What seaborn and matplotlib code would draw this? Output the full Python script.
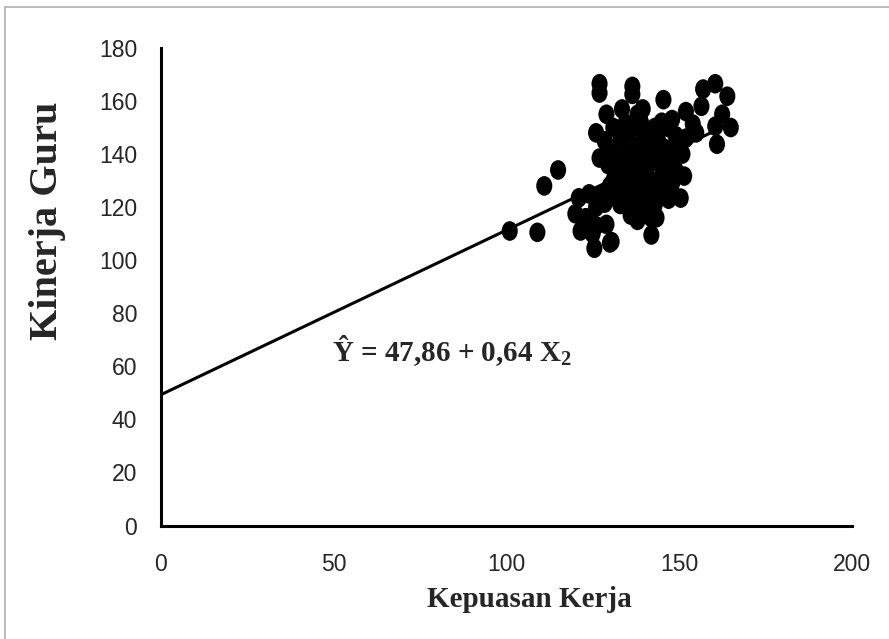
import numpy as np
import pandas as pd
import matplotlib
matplotlib.use("Agg")
import matplotlib.pyplot as plt
import seaborn as sns
from matplotlib.path import Path
from matplotlib.transforms import Affine2D
from matplotlib.lines import Line2D

# Scatter data: Kepuasan Kerja (X2) vs Kinerja Guru (Y)
kepuasan = [101, 109, 111, 115, 121, 120, 121.5, 123, 125, 125.5, 126, 127.5, 128.5, 129, 130, 130.5,
            127, 127, 136.5, 136.5, 145.5, 129, 126, 134.5, 139.5, 133.5, 127, 130,
            157, 160.5, 164, 156.5, 152, 162.5, 160.5, 165, 161, 154, 151, 151.5, 150.5,
            142, 143.5, 141.3, 124, 126, 128,
            131, 133, 135, 137, 139, 141, 143, 145, 147, 149,
            132, 134, 136, 138, 140, 142, 144, 146, 148, 150,
            131, 133, 135, 137, 139, 141, 143, 145, 147, 149,
            132, 134, 136, 138, 140, 142, 144, 146, 148,
            133, 135, 137, 139, 141, 143, 145, 147,
            136, 138, 140, 142, 135, 137, 139,
            129.5, 130, 130.5, 131, 128.5, 138, 140, 144, 146, 152, 148, 155]
kinerja = [111, 110.5, 128, 134, 123.5, 117.5, 111, 116, 110, 104.5, 113, 122, 121.5, 113.5, 106.5, 107,
           166.5, 163, 165.5, 162.5, 160.5, 155, 148, 151.5, 157, 157, 138.5, 142,
           164.5, 166.5, 161.8, 158, 156, 155, 150.5, 150, 143.7, 151.3, 140, 131.7, 123.4,
           109.5, 116, 118, 125, 120, 125,
           140, 145, 148, 150, 152, 148, 150, 152, 150, 147,
           135, 138, 141, 143, 140, 143, 145, 142, 140, 143,
           130, 132, 134, 136, 133, 136, 138, 135, 137, 134,
           126, 128, 125, 129, 127, 130, 128, 131, 129,
           121, 123, 119, 122, 124, 121, 125, 123,
           117, 115, 118, 116, 128, 131, 126,
           136, 128, 124, 150, 145, 155, 145, 140, 138, 146, 153, 148]

# Regression line as drawn
intercept = 49.3
slope = 0.62
line_x = [0, 165]

x_ticks = [0, 50, 100, 150, 200]
y_ticks = [0, 20, 40, 60, 80, 100, 120, 140, 160, 180]

df = pd.DataFrame({"Kepuasan Kerja": kepuasan, "Kinerja Guru": kinerja})

sns.set_style("white")
plt.rcParams["mathtext.fontset"] = "custom"
plt.rcParams["mathtext.rm"] = "Liberation Serif:bold"
plt.rcParams["mathtext.default"] = "rm"

tick_font = ["Liberation Sans Narrow", "Liberation Sans", "DejaVu Sans"]
label_font = ["Liberation Serif", "DejaVu Serif"]

fig = plt.figure(figsize=(8.89, 6.39), dpi=100)
ax = fig.add_axes([0.181, 0.1776, 0.777, 0.7474])

# slightly tall ellipse marker, like the stretched original
ell = Path.unit_circle().transformed(Affine2D().scale(0.82, 1.0))

sns.scatterplot(data=df, x="Kepuasan Kerja", y="Kinerja Guru", ax=ax,
                color="black", marker=ell, s=200, edgecolor="none", linewidth=0)

lx = np.array(line_x)
ax.plot(lx, intercept + slope * lx, color="black", linewidth=2.2, zorder=1)

ax.text(49.5, 66, "Ŷ = 47,86 + 0,64 X$_{2}$", fontsize=21, fontweight="bold",
        family=label_font, ha="left", va="center")

ax.set_xlim(0, 200)
ax.set_ylim(0, 180)
ax.set_xticks(x_ticks)
ax.set_yticks(y_ticks)
ax.set_xticklabels([str(v) for v in x_ticks], family=tick_font, fontsize=16.5)
ax.set_yticklabels([str(v) for v in y_ticks], family=tick_font, fontsize=16.5)
ax.tick_params(axis="both", direction="out", length=6, width=2.2, color="black")
ax.tick_params(axis="x", pad=14)
ax.tick_params(axis="y", pad=11)

for side in ["top", "right"]:
    ax.spines[side].set_visible(False)
for side in ["left", "bottom"]:
    ax.spines[side].set_color("black")
    ax.spines[side].set_linewidth(2.2)

ax.set_xlabel("Kepuasan Kerja", fontsize=21, fontweight="bold", family=label_font)
ax.set_ylabel("Kinerja Guru", fontsize=29, fontweight="bold", family=label_font)
ax.xaxis.set_label_coords(0.534, -0.126)
ax.yaxis.set_label_coords(-0.137, 0.638)

# faint frame on the left and top of the figure
fig.add_artist(Line2D([5 / 889, 5 / 889], [0, 1 - 7 / 639], color="#b0b0b0", linewidth=1.2))
fig.add_artist(Line2D([5 / 889, 1], [1 - 7 / 639, 1 - 7 / 639], color="#b0b0b0", linewidth=1.2))

fig.savefig("out.png", dpi=100)
